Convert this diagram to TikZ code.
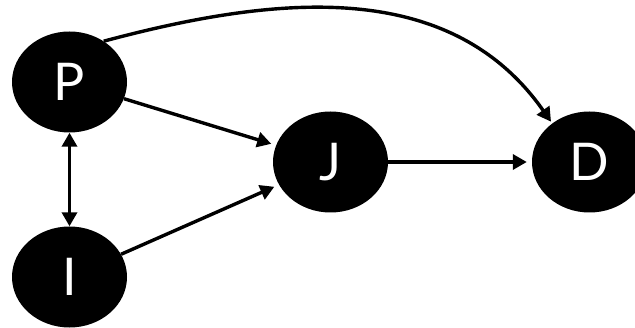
\documentclass[tikz,border=0pt]{standalone}
\usepackage{fontspec}
\setmainfont{Lato}
\usepackage{tikz}
\usetikzlibrary{arrows.meta,shapes.geometric}

\begin{document}
\begin{tikzpicture}[x=1pt,y=1pt,
  var/.style={ellipse,fill=black,text=white,minimum width=115pt,minimum height=101pt,inner sep=0pt,font=\fontsize{52}{52}\selectfont},
  arr/.style={-{Triangle[length=14pt,width=15pt]},line width=3.4pt,shorten >=5pt},
  both/.style={{Triangle[length=14pt,width=15pt]}-{Triangle[length=14pt,width=15pt]},line width=3.4pt}
]
\useasboundingbox (0,0) rectangle (635,327);
\node[var] (p) at (69.5,245) {P};
\node[var] (i) at (69.5,50) {I};
\node[var] (j) at (330.5,165) {J};
\node[var] (d) at (589.5,165) {D};
\draw[arr] (p) -- (j);
\draw[arr] (i) -- (j);
\draw[arr] (j) -- (d);
\draw[both] (p) -- (i);
\draw[arr,shorten >=2pt] (p.50) to[out=15,in=125] (d.134);
\end{tikzpicture}
\end{document}
